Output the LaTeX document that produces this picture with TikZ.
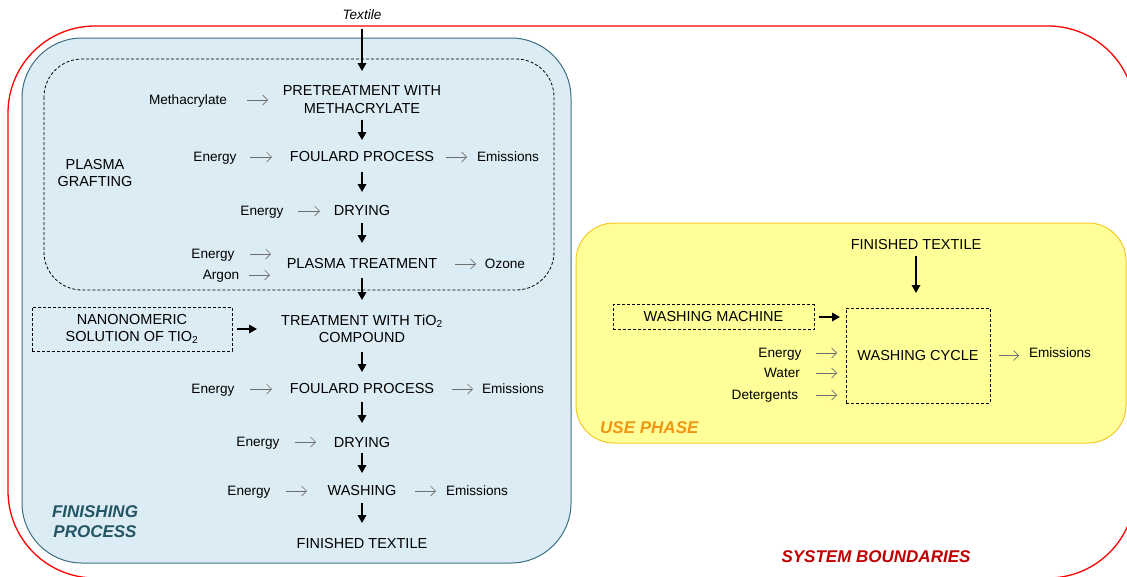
\documentclass[tikz,border=0pt]{standalone}
\usepackage{fontspec}
\setmainfont{Liberation Sans}
\usetikzlibrary{arrows.meta}
\definecolor{bluefill}{RGB}{219,236,244}
\definecolor{blueline}{RGB}{60,110,130}
\definecolor{yelfill}{RGB}{255,255,153}
\definecolor{yelline}{RGB}{245,200,40}
\definecolor{tealtxt}{RGB}{35,85,100}
\definecolor{orangetxt}{RGB}{240,150,20}
\definecolor{redtxt}{RGB}{190,0,0}
\definecolor{grayarr}{RGB}{110,110,110}
\begin{document}
\begin{tikzpicture}[x=1pt,y=-1pt,
 proc/.style={inner sep=0pt, align=center, font=\fontsize{14.5}{17.5}\selectfont},
 lab/.style={inner sep=0pt, font=\fontsize{13.6}{16}\selectfont, text height=9.8pt, text depth=0pt},
 blk/.style={line width=1.7pt, -{Triangle[length=8pt,width=8.5pt]}},
 gra/.style={grayarr, line width=0.7pt, -{Straight Barb[length=5pt,width=10pt]}},
 dbox/.style={draw, dash pattern=on 3pt off 2pt, line width=0.8pt, inner sep=0pt, align=center, font=\fontsize{14.5}{17.5}\selectfont},
 title/.style={inner sep=0pt, align=center, font=\fontsize{17}{20}\selectfont\bfseries\itshape}
]
\useasboundingbox (0,0) rectangle (1127,576);
% boundaries
\draw[red, line width=1.3pt, rounded corners=87pt] (8,26) rectangle (1135,578);
\draw[fill=bluefill, draw=blueline, line width=1pt, rounded corners=60pt] (22,38) rectangle (571,563);
\draw[dash pattern=on 3pt off 2pt, line width=0.8pt, rounded corners=38pt] (44,59) rectangle (554,290);
\draw[fill=yelfill, draw=yelline, line width=1pt, rounded corners=38pt] (576,223) rectangle (1126,443);

% finishing process column
\node[lab, font=\fontsize{13.6}{16}\selectfont\itshape] (tex) at (362,15) {Textile};
\node[proc] (p1) at (362,99.5) {PRETREATMENT WITH\\METHACRYLATE};
\node[proc] (p2) at (362,157) {FOULARD PROCESS};
\node[proc] (p3) at (362,211) {DRYING};
\node[proc] (p4) at (362,264) {PLASMA TREATMENT};
\node[proc] (p5) at (362,329) {TREATMENT WITH TiO\textsubscript{2}\\COMPOUND};
\node[proc] (p6) at (362,389) {FOULARD PROCESS};
\node[proc] (p7) at (362,443) {DRYING};
\node[proc] (p8) at (362,491) {WASHING};
\node[proc] (p9) at (362,543) {FINISHED TEXTILE};

\node[lab] (m1) at (188,100) {Methacrylate};
\node[lab] (e2) at (215,157) {Energy};
\node[lab] (o2) at (508,157) {Emissions};
\node[lab] (e3) at (262,211) {Energy};
\node[lab] (e4) at (213,254) {Energy};
\node[lab] (a4) at (221,275) {Argon};
\node[lab] (o4) at (505,264) {Ozone};
\node[proc] (pg) at (95,173) {PLASMA\\GRAFTING};
\node[dbox, minimum width=200pt, minimum height=44pt] (nano) at (132,329) {NANONOMERIC\\SOLUTION OF TIO\textsubscript{2}};
\node[lab] (e6) at (213,389) {Energy};
\node[lab] (o6) at (513,389) {Emissions};
\node[lab] (e7) at (258,442) {Energy};
\node[lab] (e8) at (249,491) {Energy};
\node[lab] (o8) at (477,491) {Emissions};
\node[title, text=tealtxt] (fp) at (95,522) {FINISHING\\PROCESS};

% use phase
\node[proc] (ft) at (916,245) {FINISHED TEXTILE};
\node[dbox, minimum width=201pt, minimum height=25pt] (wm) at (713.5,317) {WASHING MACHINE};
\node[dbox, minimum width=144pt, minimum height=95pt] (wc) at (918,355.5) {WASHING CYCLE};
\node[lab] (ue) at (780,353) {Energy};
\node[lab] (uw) at (782,373) {Water};
\node[lab] (ud) at (765,395) {Detergents};
\node[lab] (uo) at (1060,353) {Emissions};
\node[title, text=orangetxt, anchor=west] (up) at (600,428) {USE PHASE};
\node[title, text=redtxt] (sb) at (876,557) {SYSTEM BOUNDARIES};

% main flow arrows
\draw[blk, shorten <=14pt, shorten >=28.5pt] (tex.center) -- (p1.center);
\draw[blk, shorten <=20.5pt, shorten >=17pt] (p1.center) -- (p2.center);
\draw[blk, shorten <=15pt, shorten >=19pt] (p2.center) -- (p3.center);
\draw[blk, shorten <=12pt, shorten >=21pt] (p3.center) -- (p4.center);
\draw[blk, shorten <=14pt, shorten >=29pt] (p4.center) -- (p5.center);
\draw[blk, shorten <=23pt, shorten >=17pt] (p5.center) -- (p6.center);
\draw[blk, shorten <=13pt, shorten >=20pt] (p6.center) -- (p7.center);
\draw[blk, shorten <=10pt, shorten >=18pt] (p7.center) -- (p8.center);
\draw[blk, shorten <=12pt, shorten >=20pt] (p8.center) -- (p9.center);
\draw[blk, shorten <=105pt, shorten >=105pt] (nano.center) -- (nano.center -| p5.center);

% gray inputs / outputs
\draw[gra, shorten <=59pt, shorten >=94pt] (m1.center) -- (m1.center -| p1.center);
\draw[gra, shorten <=35pt, shorten >=90pt] (e2.center) -- (e2.center -| p2.center);
\draw[gra, shorten <=84pt, shorten >=41pt] (p2.center) -- (p2.center -| o2.center);
\draw[gra, shorten <=36pt, shorten >=42pt] (e3.center) -- (e3.center -| p3.center);
\draw[gra, shorten <=37pt, shorten >=91pt] (e4.center) -- (e4.center -| p4.center);
\draw[gra, shorten <=28pt, shorten >=92pt] (a4.center) -- (a4.center -| p4.center);
\draw[gra, shorten <=93pt, shorten >=29pt] (p4.center) -- (p4.center -| o4.center);
\draw[gra, shorten <=37pt, shorten >=90pt] (e6.center) -- (e6.center -| p6.center);
\draw[gra, shorten <=90pt, shorten >=40pt] (p6.center) -- (p6.center -| o6.center);
\draw[gra, shorten <=37pt, shorten >=46pt] (e7.center) -- (e7.center -| p7.center);
\draw[gra, shorten <=37pt, shorten >=55pt] (e8.center) -- (e8.center -| p8.center);
\draw[gra, shorten <=53pt, shorten >=41pt] (p8.center) -- (p8.center -| o8.center);

% use phase arrows
\draw[blk, shorten <=11pt, shorten >=62.5pt] (ft.center) -- (ft.center |- wc.center);
\draw[blk, shorten <=105.5pt, shorten >=78pt] (wm.center) -- (wm.center -| wc.center);
\draw[gra, shorten <=36pt, shorten >=81pt] (ue.center) -- (ue.center -| wc.center);
\draw[gra, shorten <=34pt, shorten >=81pt] (uw.center) -- (uw.center -| wc.center);
\draw[gra, shorten <=51pt, shorten >=81pt] (ud.center) -- (ud.center -| wc.center);
\draw[gra, shorten <=81pt, shorten >=41pt] (wc.center) -- (wc.center -| uo.center);
\end{tikzpicture}
\end{document}
